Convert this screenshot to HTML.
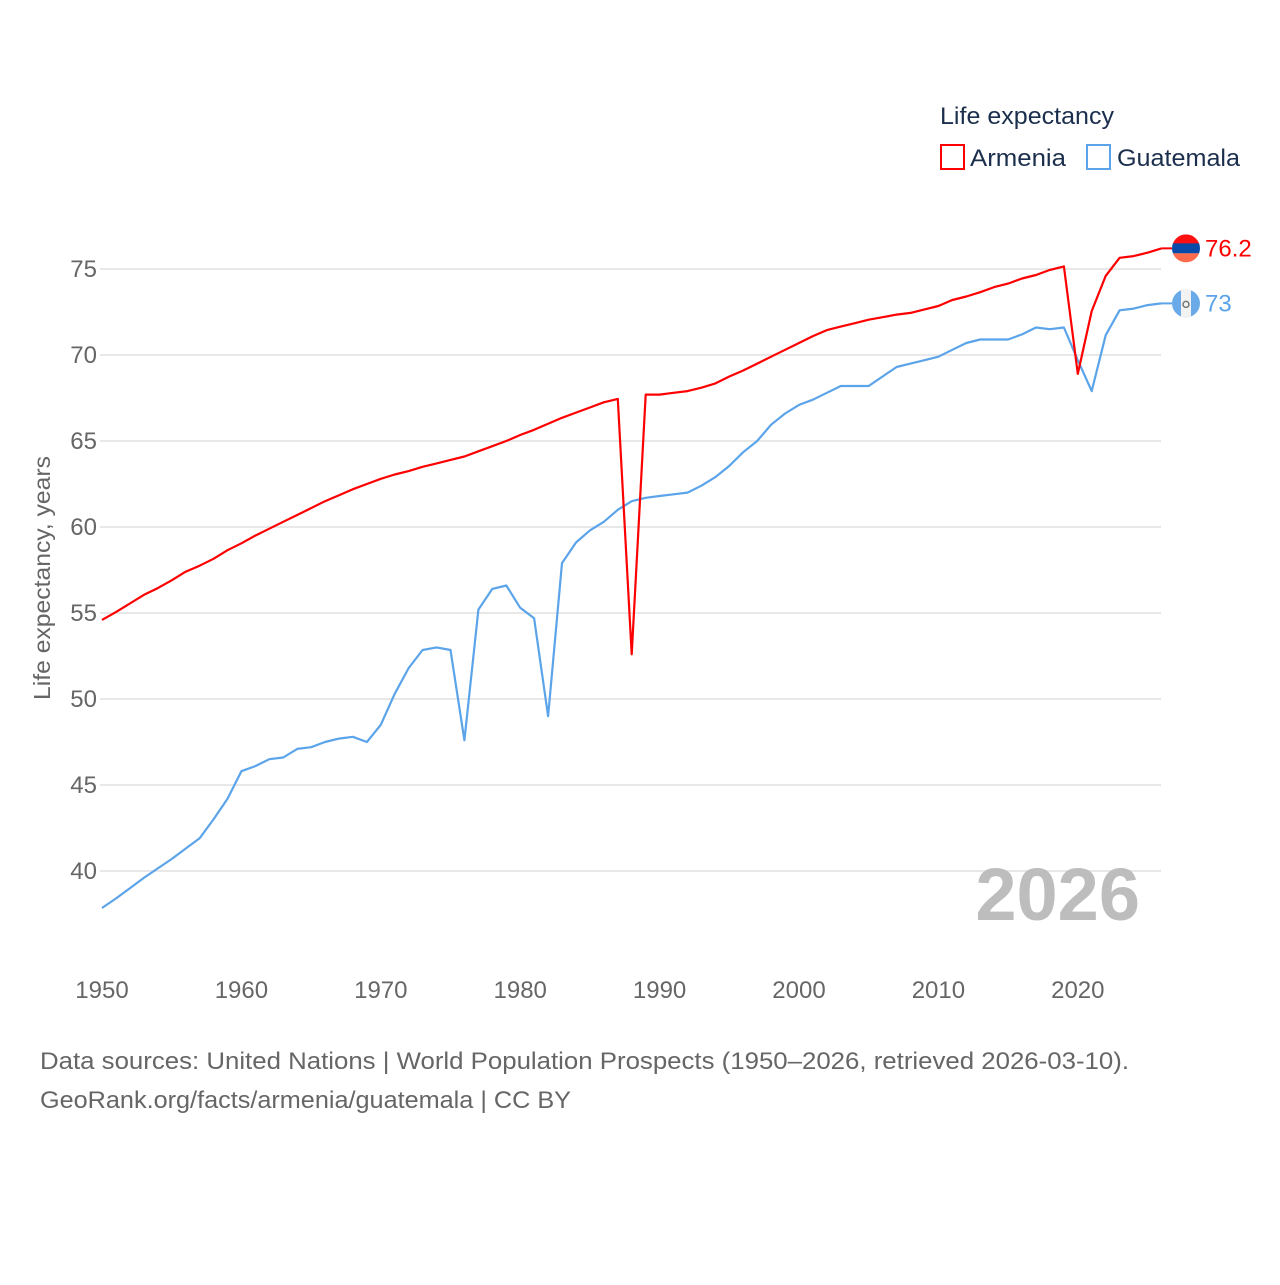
<!DOCTYPE html>
<html><head><meta charset="utf-8"><style>
body{margin:0;background:#fff;}
svg text{font-family:"Liberation Sans",sans-serif;}
</style></head><body>
<svg id="chart" width="1280" height="1280" viewBox="0 0 1280 1280" xmlns="http://www.w3.org/2000/svg">
<rect width="1280" height="1280" fill="#fff"/>
<g id="grid"></g>
<g id="yticks"></g>
<g id="xticks"></g>
<text x="50" y="578" transform="rotate(-90 50 578)" text-anchor="middle" font-size="23" textLength="244" lengthAdjust="spacingAndGlyphs" fill="#666">Life expectancy, years</text>
<text x="1140" y="920" text-anchor="end" font-size="74" font-weight="bold" fill="#bdbdbd">2026</text>
<g id="series"></g>
<g>
<text x="940" y="124" font-size="24" textLength="174" lengthAdjust="spacingAndGlyphs" fill="#1b2f4d">Life expectancy</text>
<g><rect x="941" y="145" width="23" height="24" fill="none" stroke="#ff0000" stroke-width="2"/><text x="970" y="166" font-size="24" textLength="96" lengthAdjust="spacingAndGlyphs" fill="#1b2f4d">Armenia</text></g>
<g><rect x="1087" y="145" width="23" height="24" fill="none" stroke="#5ba4ea" stroke-width="2"/><text x="1117" y="166" font-size="24" textLength="123" lengthAdjust="spacingAndGlyphs" fill="#1b2f4d">Guatemala</text></g>
</g>
<text x="40" y="1069" font-size="24" textLength="1089" lengthAdjust="spacingAndGlyphs" fill="#666">Data sources: United Nations | World Population Prospects (1950–2026, retrieved 2026-03-10).</text>
<text x="40" y="1108" font-size="24" textLength="531" lengthAdjust="spacingAndGlyphs" fill="#666">GeoRank.org/facts/armenia/guatemala | CC BY</text>
</svg>
<script>
const years = []; for (let y = 1950; y <= 2026; y++) years.push(y);
const armenia = [54.6,55.05,55.55,56.05,56.45,56.9,57.4,57.75,58.15,58.65,59.05,59.5,59.9,60.3,60.7,61.1,61.5,61.85,62.2,62.5,62.8,63.05,63.25,63.5,63.7,63.9,64.1,64.4,64.7,65.0,65.35,65.65,66.0,66.35,66.65,66.95,67.25,67.45,52.6,67.7,67.7,67.8,67.9,68.1,68.35,68.75,69.1,69.5,69.9,70.3,70.7,71.1,71.45,71.65,71.85,72.05,72.2,72.35,72.45,72.65,72.85,73.2,73.4,73.65,73.95,74.15,74.45,74.65,74.95,75.15,68.9,72.55,74.6,75.65,75.75,75.95,76.2];
const guatemala = [37.85,38.4,39.0,39.6,40.15,40.7,41.3,41.9,43.0,44.2,45.8,46.1,46.5,46.6,47.1,47.2,47.5,47.7,47.8,47.5,48.5,50.3,51.8,52.85,53.0,52.85,47.6,55.2,56.4,56.6,55.3,54.7,49.0,57.9,59.1,59.8,60.3,61.0,61.5,61.7,61.8,61.9,62.0,62.4,62.9,63.55,64.35,65.0,65.95,66.6,67.1,67.4,67.8,68.2,68.2,68.2,68.75,69.3,69.5,69.7,69.9,70.3,70.7,70.9,70.9,70.9,71.2,71.6,71.5,71.6,69.7,67.9,71.15,72.6,72.7,72.9,73.0];
const yTicks = [40,45,50,55,60,65,70,75];
const xTicks = [1950,1960,1970,1980,1990,2000,2010,2020];
const xs = y => 102 + (y - 1950) * 13.94;
const ys = v => 269 + (75 - v) * 17.2;
const NS = "http://www.w3.org/2000/svg";
function mk(tag, attrs, parent){const e=document.createElementNS(NS,tag);for(const k in attrs)e.setAttribute(k,attrs[k]);parent.appendChild(e);return e;}
const grid=document.getElementById('grid'), yt=document.getElementById('yticks'), xt=document.getElementById('xticks'), ser=document.getElementById('series');
yTicks.forEach(v=>{
  const l=mk('line',{x1:100,x2:1161,y1:ys(v),y2:ys(v),stroke:'#e8e8e8','stroke-width':2},grid);
  
  
  const t=mk('text',{x:97,y:ys(v)+8,'text-anchor':'end','font-size':24,fill:'#666'},yt);
  t.textContent=v;
  
  
});
xTicks.forEach(y=>{
  const t=mk('text',{x:xs(y),y:998,'text-anchor':'middle','font-size':24,fill:'#666'},xt);
  t.textContent=y;
  
  
});
function line(data,color,name){
  const d=data.map((v,i)=>(i?'L':'M')+xs(years[i]).toFixed(1)+','+ys(v).toFixed(1)).join(' ');
  const p=mk('path',{d:d,fill:'none',stroke:color,'stroke-width':2.2,'stroke-linejoin':'round'},ser);
  
  
}
line(guatemala,'#5ba4ea','guatemala');
line(armenia,'#ff0000','armenia');
const ax=xs(2026), cx=1186;
const aY=ys(armenia[armenia.length-1]), gY=ys(guatemala[guatemala.length-1]);
mk('line',{x1:ax,x2:cx-14,y1:aY,y2:aY,stroke:'#ff0000','stroke-width':2},ser);
mk('line',{x1:ax,x2:cx-14,y1:gY,y2:gY,stroke:'#5ba4ea','stroke-width':2},ser);
const defs=mk('defs',{},ser);
const c1=mk('clipPath',{id:'ca'},defs); mk('circle',{cx:cx,cy:aY,r:14},c1);
const c2=mk('clipPath',{id:'cg'},defs); mk('circle',{cx:cx,cy:gY,r:14},c2);
const fa=mk('g',{'clip-path':'url(#ca)'},ser);


mk('rect',{x:cx-14,y:aY-14,width:28,height:10,fill:'#ff1010'},fa);
mk('rect',{x:cx-14,y:aY-5,width:28,height:10,fill:'#0a4aa8'},fa);
mk('rect',{x:cx-14,y:aY+5,width:28,height:10,fill:'#ff6a4a'},fa);
const fg=mk('g',{'clip-path':'url(#cg)'},ser);


mk('rect',{x:cx-14,y:gY-14,width:28,height:28,fill:'#6aaae8'},fg);
mk('rect',{x:cx-5,y:gY-14,width:10,height:28,fill:'#f2f2f2'},fg);
mk('circle',{cx:cx,cy:gY+1,r:3,fill:'none',stroke:'#777','stroke-width':1.5},fg);
const la=mk('text',{x:1205,y:aY+8,'font-size':24,fill:'#ff0000'},ser);
la.textContent='76.2';


const lg=mk('text',{x:1205,y:gY+8,'font-size':24,fill:'#5ba4ea'},ser);
lg.textContent='73';


</script>
</body></html>
